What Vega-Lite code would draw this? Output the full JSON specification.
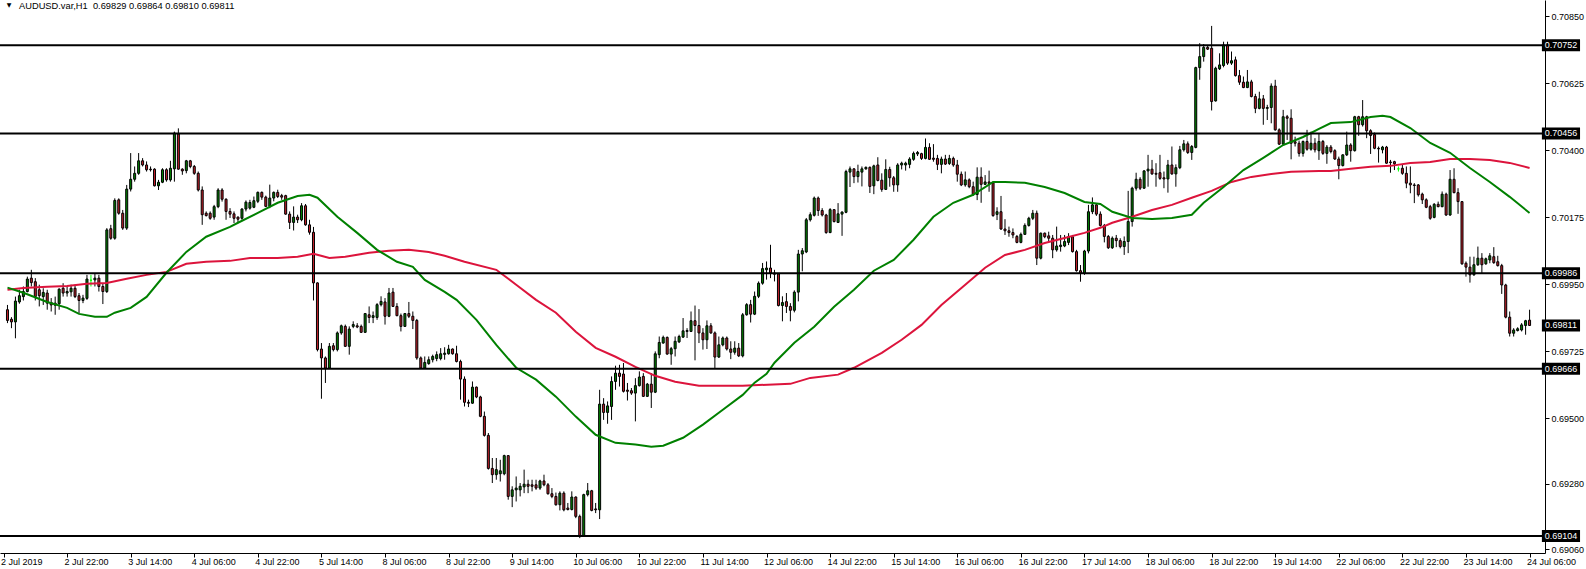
{
"$schema":"https://vega.github.io/schema/vega-lite/v6.json",
"width":1545,"height":553,
"autosize":{"type":"none"},
"padding":{"left":0,"top":0,"right":41,"bottom":16},
"background":"white",
"config":{"view":{"stroke":null},"font":"Liberation Sans"},
"datasets":{
"bars":[
{"i":0,"o":0.69864,"h":0.69880,"l":0.69819,"c":0.69828},
{"i":1,"o":0.69832,"h":0.69839,"l":0.69802,"c":0.69823},
{"i":2,"o":0.69823,"h":0.69908,"l":0.69768,"c":0.69893},
{"i":3,"o":0.69890,"h":0.69931,"l":0.69884,"c":0.69911},
{"i":4,"o":0.69908,"h":0.69942,"l":0.69895,"c":0.69925},
{"i":5,"o":0.69925,"h":0.69975,"l":0.69922,"c":0.69967},
{"i":6,"o":0.69970,"h":0.69998,"l":0.69942,"c":0.69955},
{"i":7,"o":0.69958,"h":0.69970,"l":0.69895,"c":0.69908},
{"i":8,"o":0.69931,"h":0.69948,"l":0.69875,"c":0.69911},
{"i":9,"o":0.69908,"h":0.69936,"l":0.69880,"c":0.69922},
{"i":10,"o":0.69920,"h":0.69931,"l":0.69864,"c":0.69886},
{"i":11,"o":0.69888,"h":0.69903,"l":0.69858,"c":0.69880},
{"i":12,"o":0.69886,"h":0.69908,"l":0.69847,"c":0.69879},
{"i":13,"o":0.69884,"h":0.69936,"l":0.69864,"c":0.69933},
{"i":14,"o":0.69936,"h":0.69953,"l":0.69908,"c":0.69920},
{"i":15,"o":0.69920,"h":0.69944,"l":0.69908,"c":0.69925},
{"i":16,"o":0.69924,"h":0.69948,"l":0.69908,"c":0.69936},
{"i":17,"o":0.69936,"h":0.69948,"l":0.69903,"c":0.69908},
{"i":18,"o":0.69911,"h":0.69920,"l":0.69852,"c":0.69895},
{"i":19,"o":0.69895,"h":0.69914,"l":0.69886,"c":0.69903},
{"i":20,"o":0.69902,"h":0.69981,"l":0.69897,"c":0.69967},
{"i":21,"o":0.69963,"h":0.69981,"l":0.69942,"c":0.69963},
{"i":22,"o":0.69964,"h":0.69987,"l":0.69942,"c":0.69970},
{"i":23,"o":0.69970,"h":0.69981,"l":0.69925,"c":0.69942},
{"i":24,"o":0.69942,"h":0.69953,"l":0.69883,"c":0.69925},
{"i":25,"o":0.69925,"h":0.70138,"l":0.69920,"c":0.70132},
{"i":26,"o":0.70136,"h":0.70149,"l":0.70099,"c":0.70104},
{"i":27,"o":0.70104,"h":0.70238,"l":0.70099,"c":0.70231},
{"i":28,"o":0.70233,"h":0.70238,"l":0.70183,"c":0.70188},
{"i":29,"o":0.70188,"h":0.70199,"l":0.70132,"c":0.70138},
{"i":30,"o":0.70138,"h":0.70283,"l":0.70132,"c":0.70269},
{"i":31,"o":0.70269,"h":0.70390,"l":0.70261,"c":0.70302},
{"i":32,"o":0.70302,"h":0.70345,"l":0.70294,"c":0.70322},
{"i":33,"o":0.70322,"h":0.70390,"l":0.70317,"c":0.70364},
{"i":34,"o":0.70364,"h":0.70373,"l":0.70345,"c":0.70350},
{"i":35,"o":0.70350,"h":0.70362,"l":0.70328,"c":0.70334},
{"i":36,"o":0.70336,"h":0.70345,"l":0.70328,"c":0.70334},
{"i":37,"o":0.70336,"h":0.70339,"l":0.70278,"c":0.70280},
{"i":38,"o":0.70280,"h":0.70300,"l":0.70266,"c":0.70292},
{"i":39,"o":0.70292,"h":0.70339,"l":0.70289,"c":0.70334},
{"i":40,"o":0.70334,"h":0.70339,"l":0.70294,"c":0.70300},
{"i":41,"o":0.70300,"h":0.70364,"l":0.70294,"c":0.70339},
{"i":42,"o":0.70337,"h":0.70462,"l":0.70294,"c":0.70457},
{"i":43,"o":0.70454,"h":0.70473,"l":0.70334,"c":0.70336},
{"i":44,"o":0.70336,"h":0.70339,"l":0.70317,"c":0.70330},
{"i":45,"o":0.70331,"h":0.70367,"l":0.70322,"c":0.70364},
{"i":46,"o":0.70364,"h":0.70367,"l":0.70339,"c":0.70345},
{"i":47,"o":0.70345,"h":0.70350,"l":0.70317,"c":0.70322},
{"i":48,"o":0.70322,"h":0.70328,"l":0.70261,"c":0.70266},
{"i":49,"o":0.70266,"h":0.70278,"l":0.70149,"c":0.70183},
{"i":50,"o":0.70188,"h":0.70194,"l":0.70177,"c":0.70180},
{"i":51,"o":0.70188,"h":0.70194,"l":0.70166,"c":0.70171},
{"i":52,"o":0.70175,"h":0.70216,"l":0.70166,"c":0.70210},
{"i":53,"o":0.70210,"h":0.70272,"l":0.70205,"c":0.70266},
{"i":54,"o":0.70266,"h":0.70272,"l":0.70227,"c":0.70235},
{"i":55,"o":0.70235,"h":0.70238,"l":0.70166,"c":0.70194},
{"i":56,"o":0.70194,"h":0.70205,"l":0.70172,"c":0.70185},
{"i":57,"o":0.70186,"h":0.70194,"l":0.70155,"c":0.70171},
{"i":58,"o":0.70175,"h":0.70177,"l":0.70155,"c":0.70168},
{"i":59,"o":0.70171,"h":0.70205,"l":0.70166,"c":0.70202},
{"i":60,"o":0.70202,"h":0.70231,"l":0.70194,"c":0.70225},
{"i":61,"o":0.70205,"h":0.70233,"l":0.70200,"c":0.70224},
{"i":62,"o":0.70208,"h":0.70244,"l":0.70205,"c":0.70230},
{"i":63,"o":0.70228,"h":0.70261,"l":0.70222,"c":0.70258},
{"i":64,"o":0.70258,"h":0.70261,"l":0.70233,"c":0.70242},
{"i":65,"o":0.70242,"h":0.70247,"l":0.70209,"c":0.70211},
{"i":66,"o":0.70211,"h":0.70284,"l":0.70205,"c":0.70239},
{"i":67,"o":0.70239,"h":0.70261,"l":0.70228,"c":0.70258},
{"i":68,"o":0.70258,"h":0.70267,"l":0.70239,"c":0.70244},
{"i":69,"o":0.70247,"h":0.70253,"l":0.70233,"c":0.70242},
{"i":70,"o":0.70247,"h":0.70250,"l":0.70183,"c":0.70185},
{"i":71,"o":0.70185,"h":0.70194,"l":0.70135,"c":0.70157},
{"i":72,"o":0.70157,"h":0.70211,"l":0.70130,"c":0.70175},
{"i":73,"o":0.70175,"h":0.70183,"l":0.70155,"c":0.70166},
{"i":74,"o":0.70166,"h":0.70222,"l":0.70161,"c":0.70213},
{"i":75,"o":0.70213,"h":0.70219,"l":0.70146,"c":0.70149},
{"i":76,"o":0.70149,"h":0.70166,"l":0.70116,"c":0.70124},
{"i":77,"o":0.70124,"h":0.70142,"l":0.69895,"c":0.69954},
{"i":78,"o":0.69954,"h":0.69956,"l":0.69724,"c":0.69730},
{"i":79,"o":0.69732,"h":0.69752,"l":0.69565,"c":0.69702},
{"i":80,"o":0.69702,"h":0.69707,"l":0.69618,"c":0.69668},
{"i":81,"o":0.69668,"h":0.69752,"l":0.69666,"c":0.69741},
{"i":82,"o":0.69743,"h":0.69752,"l":0.69724,"c":0.69730},
{"i":83,"o":0.69730,"h":0.69791,"l":0.69724,"c":0.69786},
{"i":84,"o":0.69786,"h":0.69814,"l":0.69780,"c":0.69810},
{"i":85,"o":0.69808,"h":0.69814,"l":0.69739,"c":0.69741},
{"i":86,"o":0.69741,"h":0.69808,"l":0.69713,"c":0.69799},
{"i":87,"o":0.69808,"h":0.69825,"l":0.69802,"c":0.69814},
{"i":88,"o":0.69810,"h":0.69819,"l":0.69802,"c":0.69806},
{"i":89,"o":0.69808,"h":0.69814,"l":0.69786,"c":0.69788},
{"i":90,"o":0.69788,"h":0.69853,"l":0.69786,"c":0.69851},
{"i":91,"o":0.69847,"h":0.69875,"l":0.69819,"c":0.69838},
{"i":92,"o":0.69838,"h":0.69858,"l":0.69819,"c":0.69844},
{"i":93,"o":0.69838,"h":0.69886,"l":0.69830,"c":0.69881},
{"i":94,"o":0.69881,"h":0.69909,"l":0.69875,"c":0.69892},
{"i":95,"o":0.69890,"h":0.69903,"l":0.69814,"c":0.69842},
{"i":96,"o":0.69842,"h":0.69937,"l":0.69839,"c":0.69920},
{"i":97,"o":0.69923,"h":0.69937,"l":0.69873,"c":0.69875},
{"i":98,"o":0.69875,"h":0.69886,"l":0.69842,"c":0.69844},
{"i":99,"o":0.69844,"h":0.69851,"l":0.69791,"c":0.69808},
{"i":100,"o":0.69808,"h":0.69853,"l":0.69806,"c":0.69851},
{"i":101,"o":0.69851,"h":0.69890,"l":0.69836,"c":0.69842},
{"i":102,"o":0.69842,"h":0.69858,"l":0.69799,"c":0.69828},
{"i":103,"o":0.69828,"h":0.69833,"l":0.69696,"c":0.69702},
{"i":104,"o":0.69702,"h":0.69707,"l":0.69666,"c":0.69668},
{"i":105,"o":0.69668,"h":0.69707,"l":0.69666,"c":0.69687},
{"i":106,"o":0.69683,"h":0.69707,"l":0.69679,"c":0.69696},
{"i":107,"o":0.69696,"h":0.69713,"l":0.69687,"c":0.69707},
{"i":108,"o":0.69700,"h":0.69724,"l":0.69691,"c":0.69713},
{"i":109,"o":0.69700,"h":0.69735,"l":0.69694,"c":0.69716},
{"i":110,"o":0.69714,"h":0.69738,"l":0.69696,"c":0.69718},
{"i":111,"o":0.69716,"h":0.69746,"l":0.69713,"c":0.69732},
{"i":112,"o":0.69732,"h":0.69734,"l":0.69713,"c":0.69716},
{"i":113,"o":0.69716,"h":0.69743,"l":0.69687,"c":0.69690},
{"i":114,"o":0.69690,"h":0.69696,"l":0.69562,"c":0.69631},
{"i":115,"o":0.69631,"h":0.69640,"l":0.69539,"c":0.69553},
{"i":116,"o":0.69553,"h":0.69562,"l":0.69537,"c":0.69550},
{"i":117,"o":0.69550,"h":0.69623,"l":0.69548,"c":0.69604},
{"i":118,"o":0.69604,"h":0.69606,"l":0.69567,"c":0.69571},
{"i":119,"o":0.69571,"h":0.69575,"l":0.69503,"c":0.69506},
{"i":120,"o":0.69506,"h":0.69522,"l":0.69438,"c":0.69442},
{"i":121,"o":0.69442,"h":0.69450,"l":0.69327,"c":0.69331},
{"i":122,"o":0.69331,"h":0.69366,"l":0.69282,"c":0.69310},
{"i":123,"o":0.69310,"h":0.69366,"l":0.69293,"c":0.69327},
{"i":124,"o":0.69313,"h":0.69360,"l":0.69287,"c":0.69323},
{"i":125,"o":0.69313,"h":0.69377,"l":0.69308,"c":0.69374},
{"i":126,"o":0.69374,"h":0.69376,"l":0.69226,"c":0.69237},
{"i":127,"o":0.69237,"h":0.69271,"l":0.69201,"c":0.69259},
{"i":128,"o":0.69259,"h":0.69304,"l":0.69220,"c":0.69265},
{"i":129,"o":0.69259,"h":0.69282,"l":0.69237,"c":0.69271},
{"i":130,"o":0.69269,"h":0.69327,"l":0.69248,"c":0.69278},
{"i":131,"o":0.69278,"h":0.69293,"l":0.69248,"c":0.69271},
{"i":132,"o":0.69276,"h":0.69293,"l":0.69254,"c":0.69271},
{"i":133,"o":0.69276,"h":0.69293,"l":0.69259,"c":0.69265},
{"i":134,"o":0.69265,"h":0.69293,"l":0.69259,"c":0.69289},
{"i":135,"o":0.69289,"h":0.69310,"l":0.69271,"c":0.69276},
{"i":136,"o":0.69276,"h":0.69282,"l":0.69243,"c":0.69246},
{"i":137,"o":0.69246,"h":0.69265,"l":0.69231,"c":0.69237},
{"i":138,"o":0.69237,"h":0.69250,"l":0.69206,"c":0.69209},
{"i":139,"o":0.69209,"h":0.69254,"l":0.69190,"c":0.69248},
{"i":140,"o":0.69248,"h":0.69254,"l":0.69187,"c":0.69192},
{"i":141,"o":0.69198,"h":0.69215,"l":0.69190,"c":0.69193},
{"i":142,"o":0.69193,"h":0.69254,"l":0.69190,"c":0.69235},
{"i":143,"o":0.69235,"h":0.69237,"l":0.69164,"c":0.69170},
{"i":144,"o":0.69170,"h":0.69176,"l":0.69097,"c":0.69103},
{"i":145,"o":0.69103,"h":0.69246,"l":0.69101,"c":0.69243},
{"i":146,"o":0.69243,"h":0.69282,"l":0.69237,"c":0.69256},
{"i":147,"o":0.69256,"h":0.69259,"l":0.69187,"c":0.69190},
{"i":148,"o":0.69195,"h":0.69215,"l":0.69181,"c":0.69192},
{"i":149,"o":0.69192,"h":0.69595,"l":0.69161,"c":0.69547},
{"i":150,"o":0.69547,"h":0.69567,"l":0.69494,"c":0.69519},
{"i":151,"o":0.69519,"h":0.69556,"l":0.69481,"c":0.69541},
{"i":152,"o":0.69539,"h":0.69640,"l":0.69494,"c":0.69623},
{"i":153,"o":0.69623,"h":0.69676,"l":0.69595,"c":0.69651},
{"i":154,"o":0.69651,"h":0.69679,"l":0.69606,"c":0.69640},
{"i":155,"o":0.69648,"h":0.69685,"l":0.69586,"c":0.69590},
{"i":156,"o":0.69594,"h":0.69618,"l":0.69559,"c":0.69590},
{"i":157,"o":0.69592,"h":0.69601,"l":0.69578,"c":0.69584},
{"i":158,"o":0.69584,"h":0.69634,"l":0.69489,"c":0.69609},
{"i":159,"o":0.69609,"h":0.69657,"l":0.69606,"c":0.69638},
{"i":160,"o":0.69640,"h":0.69651,"l":0.69571,"c":0.69573},
{"i":161,"o":0.69573,"h":0.69618,"l":0.69571,"c":0.69614},
{"i":162,"o":0.69614,"h":0.69651,"l":0.69534,"c":0.69587},
{"i":163,"o":0.69587,"h":0.69724,"l":0.69584,"c":0.69716},
{"i":164,"o":0.69713,"h":0.69774,"l":0.69701,"c":0.69754},
{"i":165,"o":0.69752,"h":0.69777,"l":0.69750,"c":0.69771},
{"i":166,"o":0.69771,"h":0.69774,"l":0.69713,"c":0.69715},
{"i":167,"o":0.69715,"h":0.69739,"l":0.69679,"c":0.69733},
{"i":168,"o":0.69733,"h":0.69774,"l":0.69707,"c":0.69758},
{"i":169,"o":0.69756,"h":0.69780,"l":0.69752,"c":0.69774},
{"i":170,"o":0.69772,"h":0.69836,"l":0.69769,"c":0.69793},
{"i":171,"o":0.69791,"h":0.69802,"l":0.69769,"c":0.69794},
{"i":172,"o":0.69791,"h":0.69858,"l":0.69789,"c":0.69827},
{"i":173,"o":0.69827,"h":0.69878,"l":0.69694,"c":0.69811},
{"i":174,"o":0.69811,"h":0.69866,"l":0.69752,"c":0.69786},
{"i":175,"o":0.69786,"h":0.69802,"l":0.69730,"c":0.69763},
{"i":176,"o":0.69763,"h":0.69828,"l":0.69732,"c":0.69810},
{"i":177,"o":0.69810,"h":0.69819,"l":0.69783,"c":0.69786},
{"i":178,"o":0.69786,"h":0.69791,"l":0.69668,"c":0.69705},
{"i":179,"o":0.69705,"h":0.69774,"l":0.69702,"c":0.69746},
{"i":180,"o":0.69746,"h":0.69774,"l":0.69741,"c":0.69769},
{"i":181,"o":0.69769,"h":0.69774,"l":0.69727,"c":0.69732},
{"i":182,"o":0.69732,"h":0.69758,"l":0.69698,"c":0.69721},
{"i":183,"o":0.69721,"h":0.69758,"l":0.69713,"c":0.69735},
{"i":184,"o":0.69735,"h":0.69752,"l":0.69705,"c":0.69709},
{"i":185,"o":0.69709,"h":0.69853,"l":0.69704,"c":0.69847},
{"i":186,"o":0.69847,"h":0.69886,"l":0.69844,"c":0.69881},
{"i":187,"o":0.69881,"h":0.69897,"l":0.69821,"c":0.69849},
{"i":188,"o":0.69849,"h":0.69925,"l":0.69846,"c":0.69909},
{"i":189,"o":0.69909,"h":0.69959,"l":0.69903,"c":0.69953},
{"i":190,"o":0.69953,"h":0.70021,"l":0.69948,"c":0.70002},
{"i":191,"o":0.69998,"h":0.70026,"l":0.69965,"c":0.70004},
{"i":192,"o":0.70004,"h":0.70082,"l":0.69970,"c":0.69987},
{"i":193,"o":0.69987,"h":0.69998,"l":0.69959,"c":0.69983},
{"i":194,"o":0.69984,"h":0.69987,"l":0.69875,"c":0.69878},
{"i":195,"o":0.69878,"h":0.69909,"l":0.69825,"c":0.69888},
{"i":196,"o":0.69891,"h":0.69920,"l":0.69853,"c":0.69875},
{"i":197,"o":0.69875,"h":0.69886,"l":0.69825,"c":0.69862},
{"i":198,"o":0.69862,"h":0.69929,"l":0.69855,"c":0.69923},
{"i":199,"o":0.69923,"h":0.70065,"l":0.69892,"c":0.70051},
{"i":200,"o":0.70051,"h":0.70071,"l":0.69993,"c":0.70062},
{"i":201,"o":0.70058,"h":0.70172,"l":0.70054,"c":0.70166},
{"i":202,"o":0.70166,"h":0.70191,"l":0.70160,"c":0.70183},
{"i":203,"o":0.70181,"h":0.70244,"l":0.70177,"c":0.70239},
{"i":204,"o":0.70239,"h":0.70244,"l":0.70179,"c":0.70197},
{"i":205,"o":0.70197,"h":0.70205,"l":0.70177,"c":0.70182},
{"i":206,"o":0.70182,"h":0.70186,"l":0.70119,"c":0.70123},
{"i":207,"o":0.70123,"h":0.70205,"l":0.70121,"c":0.70200},
{"i":208,"o":0.70200,"h":0.70202,"l":0.70157,"c":0.70160},
{"i":209,"o":0.70157,"h":0.70222,"l":0.70155,"c":0.70186},
{"i":210,"o":0.70185,"h":0.70194,"l":0.70112,"c":0.70192},
{"i":211,"o":0.70191,"h":0.70334,"l":0.70188,"c":0.70328},
{"i":212,"o":0.70326,"h":0.70345,"l":0.70276,"c":0.70337},
{"i":213,"o":0.70337,"h":0.70339,"l":0.70289,"c":0.70311},
{"i":214,"o":0.70311,"h":0.70351,"l":0.70291,"c":0.70328},
{"i":215,"o":0.70326,"h":0.70345,"l":0.70278,"c":0.70337},
{"i":216,"o":0.70337,"h":0.70345,"l":0.70334,"c":0.70342},
{"i":217,"o":0.70342,"h":0.70345,"l":0.70256,"c":0.70278},
{"i":218,"o":0.70280,"h":0.70351,"l":0.70252,"c":0.70347},
{"i":219,"o":0.70350,"h":0.70376,"l":0.70295,"c":0.70298},
{"i":220,"o":0.70299,"h":0.70322,"l":0.70260,"c":0.70268},
{"i":221,"o":0.70268,"h":0.70369,"l":0.70266,"c":0.70335},
{"i":222,"o":0.70335,"h":0.70344,"l":0.70277,"c":0.70307},
{"i":223,"o":0.70307,"h":0.70313,"l":0.70260,"c":0.70283},
{"i":224,"o":0.70283,"h":0.70356,"l":0.70260,"c":0.70350},
{"i":225,"o":0.70350,"h":0.70361,"l":0.70335,"c":0.70356},
{"i":226,"o":0.70350,"h":0.70361,"l":0.70331,"c":0.70356},
{"i":227,"o":0.70352,"h":0.70376,"l":0.70339,"c":0.70370},
{"i":228,"o":0.70369,"h":0.70395,"l":0.70364,"c":0.70389},
{"i":229,"o":0.70387,"h":0.70397,"l":0.70380,"c":0.70392},
{"i":230,"o":0.70388,"h":0.70391,"l":0.70367,"c":0.70372},
{"i":231,"o":0.70372,"h":0.70439,"l":0.70369,"c":0.70409},
{"i":232,"o":0.70409,"h":0.70423,"l":0.70367,"c":0.70369},
{"i":233,"o":0.70373,"h":0.70420,"l":0.70361,"c":0.70369},
{"i":234,"o":0.70372,"h":0.70384,"l":0.70333,"c":0.70352},
{"i":235,"o":0.70352,"h":0.70378,"l":0.70322,"c":0.70370},
{"i":236,"o":0.70370,"h":0.70384,"l":0.70350,"c":0.70353},
{"i":237,"o":0.70355,"h":0.70384,"l":0.70350,"c":0.70372},
{"i":238,"o":0.70372,"h":0.70378,"l":0.70344,"c":0.70350},
{"i":239,"o":0.70350,"h":0.70367,"l":0.70294,"c":0.70319},
{"i":240,"o":0.70319,"h":0.70328,"l":0.70279,"c":0.70283},
{"i":241,"o":0.70283,"h":0.70328,"l":0.70277,"c":0.70300},
{"i":242,"o":0.70300,"h":0.70305,"l":0.70272,"c":0.70277},
{"i":243,"o":0.70277,"h":0.70294,"l":0.70246,"c":0.70251},
{"i":244,"o":0.70251,"h":0.70342,"l":0.70232,"c":0.70309},
{"i":245,"o":0.70309,"h":0.70342,"l":0.70223,"c":0.70285},
{"i":246,"o":0.70285,"h":0.70316,"l":0.70283,"c":0.70293},
{"i":247,"o":0.70293,"h":0.70331,"l":0.70260,"c":0.70288},
{"i":248,"o":0.70290,"h":0.70294,"l":0.70176,"c":0.70180},
{"i":249,"o":0.70184,"h":0.70208,"l":0.70165,"c":0.70193},
{"i":250,"o":0.70193,"h":0.70246,"l":0.70132,"c":0.70135},
{"i":251,"o":0.70135,"h":0.70168,"l":0.70115,"c":0.70129},
{"i":252,"o":0.70129,"h":0.70143,"l":0.70109,"c":0.70123},
{"i":253,"o":0.70123,"h":0.70137,"l":0.70104,"c":0.70115},
{"i":254,"o":0.70110,"h":0.70115,"l":0.70087,"c":0.70090},
{"i":255,"o":0.70090,"h":0.70123,"l":0.70087,"c":0.70117},
{"i":256,"o":0.70117,"h":0.70154,"l":0.70115,"c":0.70147},
{"i":257,"o":0.70147,"h":0.70176,"l":0.70143,"c":0.70171},
{"i":258,"o":0.70171,"h":0.70199,"l":0.70165,"c":0.70188},
{"i":259,"o":0.70188,"h":0.70197,"l":0.70014,"c":0.70037},
{"i":260,"o":0.70037,"h":0.70123,"l":0.70033,"c":0.70121},
{"i":261,"o":0.70121,"h":0.70123,"l":0.70104,"c":0.70109},
{"i":262,"o":0.70112,"h":0.70126,"l":0.70093,"c":0.70104},
{"i":263,"o":0.70104,"h":0.70115,"l":0.70037,"c":0.70065},
{"i":264,"o":0.70065,"h":0.70143,"l":0.70059,"c":0.70078},
{"i":265,"o":0.70076,"h":0.70115,"l":0.70059,"c":0.70081},
{"i":266,"o":0.70078,"h":0.70115,"l":0.70074,"c":0.70093},
{"i":267,"o":0.70090,"h":0.70121,"l":0.70081,"c":0.70109},
{"i":268,"o":0.70109,"h":0.70115,"l":0.70056,"c":0.70059},
{"i":269,"o":0.70059,"h":0.70065,"l":0.69992,"c":0.69995},
{"i":270,"o":0.69995,"h":0.70014,"l":0.69958,"c":0.69986},
{"i":271,"o":0.69986,"h":0.70065,"l":0.69981,"c":0.70061},
{"i":272,"o":0.70061,"h":0.70216,"l":0.70053,"c":0.70193},
{"i":273,"o":0.70193,"h":0.70241,"l":0.70185,"c":0.70216},
{"i":274,"o":0.70216,"h":0.70221,"l":0.70179,"c":0.70185},
{"i":275,"o":0.70185,"h":0.70194,"l":0.70143,"c":0.70147},
{"i":276,"o":0.70147,"h":0.70152,"l":0.70090,"c":0.70110},
{"i":277,"o":0.70110,"h":0.70115,"l":0.70068,"c":0.70072},
{"i":278,"o":0.70072,"h":0.70110,"l":0.70068,"c":0.70104},
{"i":279,"o":0.70104,"h":0.70115,"l":0.70074,"c":0.70096},
{"i":280,"o":0.70096,"h":0.70104,"l":0.70070,"c":0.70076},
{"i":281,"o":0.70076,"h":0.70110,"l":0.70048,"c":0.70093},
{"i":282,"o":0.70093,"h":0.70263,"l":0.70054,"c":0.70160},
{"i":283,"o":0.70160,"h":0.70277,"l":0.70143,"c":0.70272},
{"i":284,"o":0.70272,"h":0.70324,"l":0.70264,"c":0.70302},
{"i":285,"o":0.70302,"h":0.70309,"l":0.70266,"c":0.70272},
{"i":286,"o":0.70272,"h":0.70333,"l":0.70270,"c":0.70330},
{"i":287,"o":0.70330,"h":0.70384,"l":0.70277,"c":0.70336},
{"i":288,"o":0.70336,"h":0.70367,"l":0.70317,"c":0.70320},
{"i":289,"o":0.70322,"h":0.70356,"l":0.70277,"c":0.70319},
{"i":290,"o":0.70324,"h":0.70384,"l":0.70300,"c":0.70305},
{"i":291,"o":0.70307,"h":0.70328,"l":0.70272,"c":0.70303},
{"i":292,"o":0.70303,"h":0.70367,"l":0.70257,"c":0.70350},
{"i":293,"o":0.70350,"h":0.70412,"l":0.70317,"c":0.70320},
{"i":294,"o":0.70320,"h":0.70352,"l":0.70277,"c":0.70341},
{"i":295,"o":0.70341,"h":0.70414,"l":0.70336,"c":0.70401},
{"i":296,"o":0.70401,"h":0.70434,"l":0.70395,"c":0.70421},
{"i":297,"o":0.70421,"h":0.70429,"l":0.70387,"c":0.70392},
{"i":298,"o":0.70392,"h":0.70417,"l":0.70367,"c":0.70412},
{"i":299,"o":0.70409,"h":0.70680,"l":0.70406,"c":0.70677},
{"i":300,"o":0.70677,"h":0.70759,"l":0.70636,"c":0.70714},
{"i":301,"o":0.70714,"h":0.70756,"l":0.70697,"c":0.70745},
{"i":302,"o":0.70745,"h":0.70753,"l":0.70736,"c":0.70739},
{"i":303,"o":0.70742,"h":0.70817,"l":0.70533,"c":0.70563},
{"i":304,"o":0.70565,"h":0.70680,"l":0.70563,"c":0.70675},
{"i":305,"o":0.70673,"h":0.70725,"l":0.70669,"c":0.70686},
{"i":306,"o":0.70684,"h":0.70764,"l":0.70678,"c":0.70753},
{"i":307,"o":0.70753,"h":0.70764,"l":0.70686,"c":0.70692},
{"i":308,"o":0.70692,"h":0.70731,"l":0.70686,"c":0.70700},
{"i":309,"o":0.70703,"h":0.70714,"l":0.70647,"c":0.70650},
{"i":310,"o":0.70650,"h":0.70669,"l":0.70619,"c":0.70628},
{"i":311,"o":0.70628,"h":0.70647,"l":0.70608,"c":0.70610},
{"i":312,"o":0.70610,"h":0.70669,"l":0.70608,"c":0.70629},
{"i":313,"o":0.70629,"h":0.70636,"l":0.70577,"c":0.70580},
{"i":314,"o":0.70580,"h":0.70589,"l":0.70524,"c":0.70540},
{"i":315,"o":0.70540,"h":0.70596,"l":0.70537,"c":0.70572},
{"i":316,"o":0.70572,"h":0.70585,"l":0.70485,"c":0.70540},
{"i":317,"o":0.70540,"h":0.70552,"l":0.70501,"c":0.70543},
{"i":318,"o":0.70543,"h":0.70624,"l":0.70490,"c":0.70615},
{"i":319,"o":0.70615,"h":0.70636,"l":0.70465,"c":0.70468},
{"i":320,"o":0.70468,"h":0.70473,"l":0.70417,"c":0.70420},
{"i":321,"o":0.70420,"h":0.70535,"l":0.70417,"c":0.70512},
{"i":322,"o":0.70512,"h":0.70518,"l":0.70434,"c":0.70507},
{"i":323,"o":0.70507,"h":0.70537,"l":0.70369,"c":0.70423},
{"i":324,"o":0.70428,"h":0.70445,"l":0.70412,"c":0.70423},
{"i":325,"o":0.70423,"h":0.70432,"l":0.70378,"c":0.70389},
{"i":326,"o":0.70389,"h":0.70432,"l":0.70378,"c":0.70429},
{"i":327,"o":0.70429,"h":0.70468,"l":0.70398,"c":0.70403},
{"i":328,"o":0.70403,"h":0.70462,"l":0.70398,"c":0.70423},
{"i":329,"o":0.70423,"h":0.70440,"l":0.70392,"c":0.70401},
{"i":330,"o":0.70398,"h":0.70457,"l":0.70367,"c":0.70429},
{"i":331,"o":0.70429,"h":0.70434,"l":0.70384,"c":0.70389},
{"i":332,"o":0.70389,"h":0.70417,"l":0.70354,"c":0.70410},
{"i":333,"o":0.70410,"h":0.70417,"l":0.70389,"c":0.70395},
{"i":334,"o":0.70398,"h":0.70403,"l":0.70367,"c":0.70370},
{"i":335,"o":0.70370,"h":0.70378,"l":0.70302,"c":0.70348},
{"i":336,"o":0.70348,"h":0.70386,"l":0.70345,"c":0.70384},
{"i":337,"o":0.70384,"h":0.70462,"l":0.70380,"c":0.70417},
{"i":338,"o":0.70417,"h":0.70423,"l":0.70361,"c":0.70398},
{"i":339,"o":0.70398,"h":0.70515,"l":0.70395,"c":0.70512},
{"i":340,"o":0.70512,"h":0.70515,"l":0.70448,"c":0.70485},
{"i":341,"o":0.70485,"h":0.70568,"l":0.70479,"c":0.70512},
{"i":342,"o":0.70512,"h":0.70515,"l":0.70440,"c":0.70465},
{"i":343,"o":0.70465,"h":0.70470,"l":0.70387,"c":0.70449},
{"i":344,"o":0.70452,"h":0.70459,"l":0.70403,"c":0.70406},
{"i":345,"o":0.70406,"h":0.70412,"l":0.70358,"c":0.70404},
{"i":346,"o":0.70401,"h":0.70414,"l":0.70389,"c":0.70410},
{"i":347,"o":0.70410,"h":0.70414,"l":0.70354,"c":0.70356},
{"i":348,"o":0.70360,"h":0.70367,"l":0.70324,"c":0.70358},
{"i":349,"o":0.70361,"h":0.70364,"l":0.70333,"c":0.70354},
{"i":350,"o":0.70337,"h":0.70345,"l":0.70328,"c":0.70337},
{"i":351,"o":0.70339,"h":0.70350,"l":0.70317,"c":0.70322},
{"i":352,"o":0.70322,"h":0.70345,"l":0.70272,"c":0.70289},
{"i":353,"o":0.70289,"h":0.70345,"l":0.70255,"c":0.70283},
{"i":354,"o":0.70283,"h":0.70289,"l":0.70222,"c":0.70281},
{"i":355,"o":0.70283,"h":0.70286,"l":0.70244,"c":0.70250},
{"i":356,"o":0.70252,"h":0.70257,"l":0.70219,"c":0.70233},
{"i":357,"o":0.70233,"h":0.70238,"l":0.70205,"c":0.70208},
{"i":358,"o":0.70210,"h":0.70216,"l":0.70166,"c":0.70171},
{"i":359,"o":0.70174,"h":0.70222,"l":0.70171,"c":0.70218},
{"i":360,"o":0.70218,"h":0.70227,"l":0.70208,"c":0.70210},
{"i":361,"o":0.70210,"h":0.70261,"l":0.70208,"c":0.70252},
{"i":362,"o":0.70252,"h":0.70257,"l":0.70179,"c":0.70182},
{"i":363,"o":0.70182,"h":0.70333,"l":0.70179,"c":0.70302},
{"i":364,"o":0.70302,"h":0.70339,"l":0.70255,"c":0.70257},
{"i":365,"o":0.70257,"h":0.70272,"l":0.70186,"c":0.70227},
{"i":366,"o":0.70227,"h":0.70229,"l":0.70015,"c":0.70018},
{"i":367,"o":0.70020,"h":0.70026,"l":0.69975,"c":0.70007},
{"i":368,"o":0.70007,"h":0.70042,"l":0.69955,"c":0.69981},
{"i":369,"o":0.69981,"h":0.70042,"l":0.69978,"c":0.70015},
{"i":370,"o":0.70015,"h":0.70076,"l":0.70011,"c":0.70037},
{"i":371,"o":0.70037,"h":0.70054,"l":0.69987,"c":0.70015},
{"i":372,"o":0.70018,"h":0.70039,"l":0.70015,"c":0.70035},
{"i":373,"o":0.70031,"h":0.70054,"l":0.70020,"c":0.70045},
{"i":374,"o":0.70042,"h":0.70074,"l":0.70018,"c":0.70022},
{"i":375,"o":0.70025,"h":0.70045,"l":0.70009,"c":0.70012},
{"i":376,"o":0.70012,"h":0.70018,"l":0.69917,"c":0.69947},
{"i":377,"o":0.69947,"h":0.69951,"l":0.69835,"c":0.69839},
{"i":378,"o":0.69839,"h":0.69858,"l":0.69774,"c":0.69785},
{"i":379,"o":0.69785,"h":0.69802,"l":0.69774,"c":0.69796},
{"i":380,"o":0.69794,"h":0.69805,"l":0.69791,"c":0.69800},
{"i":381,"o":0.69796,"h":0.69819,"l":0.69791,"c":0.69813},
{"i":382,"o":0.69811,"h":0.69830,"l":0.69780,"c":0.69827},
{"i":383,"o":0.69829,"h":0.69864,"l":0.69810,"c":0.69811}
],
"green":[
{"i":0,"v":0.69938},{"i":4,"v":0.69921},{"i":10,"v":0.69890},{"i":15,"v":0.69870},{"i":18,"v":0.69850},{"i":22,"v":0.69840},{"i":25,"v":0.69840},{"i":27,"v":0.69854},{"i":31,"v":0.69870},{"i":35,"v":0.69907},{"i":40,"v":0.69988},{"i":45,"v":0.70058},{"i":50,"v":0.70109},{"i":56,"v":0.70142},{"i":58,"v":0.70156},{"i":63,"v":0.70189},{"i":68,"v":0.70223},{"i":73,"v":0.70246},{"i":76,"v":0.70250},{"i":78,"v":0.70240},{"i":83,"v":0.70176},{"i":88,"v":0.70122},{"i":93,"v":0.70065},{"i":98,"v":0.70025},{"i":102,"v":0.70008},{"i":105,"v":0.69964},{"i":110,"v":0.69924},{"i":113,"v":0.69897},{"i":118,"v":0.69830},{"i":123,"v":0.69746},{"i":128,"v":0.69669},{"i":133,"v":0.69629},{"i":138,"v":0.69572},{"i":143,"v":0.69505},{"i":148,"v":0.69444},{"i":153,"v":0.69417},{"i":158,"v":0.69411},{"i":162,"v":0.69404},{"i":165,"v":0.69407},{"i":170,"v":0.69434},{"i":175,"v":0.69478},{"i":180,"v":0.69528},{"i":185,"v":0.69578},{"i":188,"v":0.69619},{"i":191,"v":0.69649},{"i":193,"v":0.69686},{"i":198,"v":0.69753},{"i":203,"v":0.69807},{"i":208,"v":0.69874},{"i":213,"v":0.69931},{"i":218,"v":0.69995},{"i":223,"v":0.70031},{"i":228,"v":0.70099},{"i":233,"v":0.70176},{"i":238,"v":0.70223},{"i":243,"v":0.70250},{"i":248,"v":0.70293},{"i":251,"v":0.70293},{"i":256,"v":0.70290},{"i":261,"v":0.70276},{"i":266,"v":0.70256},{"i":271,"v":0.70226},{"i":275,"v":0.70219},{"i":278,"v":0.70193},{"i":283,"v":0.70172},{"i":288,"v":0.70169},{"i":293,"v":0.70172},{"i":298,"v":0.70183},{"i":301,"v":0.70223},{"i":306,"v":0.70276},{"i":311,"v":0.70333},{"i":316,"v":0.70374},{"i":321,"v":0.70417},{"i":326,"v":0.70444},{"i":330,"v":0.70471},{"i":333,"v":0.70491},{"i":338,"v":0.70494},{"i":343,"v":0.70511},{"i":346,"v":0.70515},{"i":348,"v":0.70511},{"i":353,"v":0.70474},{"i":358,"v":0.70424},{"i":363,"v":0.70391},{"i":368,"v":0.70340},{"i":373,"v":0.70293},{"i":378,"v":0.70243},{"i":383,"v":0.70189}
],
"red":[
{"i":0,"v":0.69931},{"i":4,"v":0.69937},{"i":10,"v":0.69941},{"i":15,"v":0.69944},{"i":20,"v":0.69951},{"i":25,"v":0.69954},{"i":30,"v":0.69968},{"i":35,"v":0.69981},{"i":40,"v":0.69991},{"i":45,"v":0.70018},{"i":50,"v":0.70025},{"i":56,"v":0.70028},{"i":61,"v":0.70038},{"i":68,"v":0.70038},{"i":73,"v":0.70042},{"i":77,"v":0.70052},{"i":81,"v":0.70038},{"i":85,"v":0.70042},{"i":91,"v":0.70055},{"i":96,"v":0.70062},{"i":101,"v":0.70065},{"i":106,"v":0.70058},{"i":110,"v":0.70045},{"i":115,"v":0.70025},{"i":123,"v":0.69998},{"i":128,"v":0.69948},{"i":133,"v":0.69897},{"i":138,"v":0.69854},{"i":143,"v":0.69790},{"i":148,"v":0.69736},{"i":153,"v":0.69706},{"i":158,"v":0.69672},{"i":163,"v":0.69642},{"i":168,"v":0.69622},{"i":174,"v":0.69609},{"i":185,"v":0.69609},{"i":197,"v":0.69615},{"i":202,"v":0.69635},{"i":209,"v":0.69646},{"i":213,"v":0.69669},{"i":220,"v":0.69719},{"i":225,"v":0.69763},{"i":230,"v":0.69813},{"i":235,"v":0.69880},{"i":241,"v":0.69948},{"i":246,"v":0.70005},{"i":251,"v":0.70048},{"i":256,"v":0.70065},{"i":261,"v":0.70088},{"i":266,"v":0.70105},{"i":271,"v":0.70122},{"i":275,"v":0.70139},{"i":278,"v":0.70156},{"i":283,"v":0.70176},{"i":288,"v":0.70199},{"i":293,"v":0.70216},{"i":298,"v":0.70240},{"i":303,"v":0.70263},{"i":308,"v":0.70293},{"i":313,"v":0.70310},{"i":318,"v":0.70320},{"i":323,"v":0.70327},{"i":330,"v":0.70330},{"i":333,"v":0.70330},{"i":338,"v":0.70337},{"i":343,"v":0.70344},{"i":348,"v":0.70347},{"i":353,"v":0.70357},{"i":358,"v":0.70360},{"i":363,"v":0.70370},{"i":368,"v":0.70370},{"i":373,"v":0.70367},{"i":378,"v":0.70357},{"i":383,"v":0.70340}
],
"levels":[{"p":0.70752},{"p":0.70456},{"p":0.69986},{"p":0.69666},{"p":0.69104}],
"tags":[{"p":0.70752},{"p":0.70456},{"p":0.69986},{"p":0.69811},{"p":0.69666},{"p":0.69104}]
},
"layer":[
{"data":{"name":"bars"},
 "mark":{"type":"rule","strokeWidth":1},
 "encoding":{
  "x":{"field":"i","type":"quantitative","title":null,
   "scale":{"type":"linear","domain":[-0.625,385.625],"nice":false,"zero":false},
   "axis":{"orient":"bottom","values":[-1,15,31,47,63,79,95,111,127,143,159,175,191,207,223,239,255,271,287,303,319,335,351,367,383],
    "labelExpr":"['2 Jul 2019','2 Jul 22:00','3 Jul 14:00','4 Jul 06:00','4 Jul 22:00','5 Jul 14:00','8 Jul 06:00','8 Jul 22:00','9 Jul 14:00','10 Jul 06:00','10 Jul 22:00','11 Jul 14:00','12 Jul 06:00','14 Jul 22:00','15 Jul 14:00','16 Jul 06:00','16 Jul 22:00','17 Jul 14:00','18 Jul 06:00','18 Jul 22:00','19 Jul 14:00','22 Jul 06:00','22 Jul 22:00','23 Jul 14:00','24 Jul 06:00'][round((datum.value+1)/16)]",
    "grid":false,"domainColor":"#000000","domainWidth":1,"tickColor":"#000000","tickSize":4,"tickWidth":1,
    "labelColor":"#000000","labelFont":"Liberation Sans","labelFontSize":9,"labelAlign":"left","labelBaseline":"top",
    "labelOffset":-3,"labelPadding":0,"labelFlush":false,"labelOverlap":false,"title":null}},
  "y":{"field":"l","type":"quantitative","title":null,
   "scale":{"domain":[0.69047,0.70904],"nice":false,"zero":false},
   "axis":{"orient":"right","values":[0.6906,0.6917,0.6928,0.6939,0.695,0.69615,0.69725,0.6984,0.6995,0.70065,0.70175,0.7029,0.704,0.70515,0.70625,0.7074,0.7085],
    "format":".5f","grid":false,"domainColor":"#000000","domainWidth":1,"tickColor":"#000000","tickSize":4,"tickWidth":1,
    "labelColor":"#000000","labelFont":"Liberation Sans","labelFontSize":9,"labelPadding":2,"labelBaseline":"middle",
    "labelFlush":false,"labelOverlap":false,"title":null}},
  "y2":{"field":"h"},
  "color":{"condition":{"test":"datum.o==datum.c","value":"#00ff00"},"value":"#000000"}
 }},
{"data":{"name":"bars"},
 "mark":{"type":"bar","orient":"vertical","width":2,"strokeWidth":1},
 "encoding":{
  "x":{"field":"i","type":"quantitative","title":null,"scale":{"type":"linear","domain":[-0.625,385.625],"nice":false,"zero":false}},
  "y":{"field":"o","type":"quantitative","title":null,"scale":{"domain":[0.69047,0.70904],"nice":false,"zero":false}},
  "y2":{"field":"c"},
  "fill":{"condition":{"test":"datum.c>datum.o","value":"#008000"},"value":"#c0202a"},
  "stroke":{"condition":{"test":"datum.o==datum.c","value":"#00ff00"},"value":"#000000"}
 }},
{"data":{"name":"red"},
 "mark":{"type":"line","color":"#dc143c","strokeWidth":2},
 "encoding":{
  "x":{"field":"i","type":"quantitative","title":null,"scale":{"type":"linear","domain":[-0.625,385.625],"nice":false,"zero":false}},
  "y":{"field":"v","type":"quantitative","title":null,"scale":{"domain":[0.69047,0.70904],"nice":false,"zero":false}}
 }},
{"data":{"name":"green"},
 "mark":{"type":"line","color":"#008000","strokeWidth":2},
 "encoding":{
  "x":{"field":"i","type":"quantitative","title":null,"scale":{"type":"linear","domain":[-0.625,385.625],"nice":false,"zero":false}},
  "y":{"field":"v","type":"quantitative","title":null,"scale":{"domain":[0.69047,0.70904],"nice":false,"zero":false}}
 }},
{"data":{"name":"levels"},
 "mark":{"type":"rule","color":"#000000","strokeWidth":2},
 "encoding":{
  "y":{"field":"p","type":"quantitative","title":null,"scale":{"domain":[0.69047,0.70904],"nice":false,"zero":false}}
 }},
{"data":{"name":"tags"},
 "mark":{"type":"rect","color":"#000000","yOffset":-6,"y2Offset":6,"clip":false},
 "encoding":{
  "x":{"datum":386.1,"type":"quantitative","title":null,"scale":{"type":"linear","domain":[-0.625,385.625],"nice":false,"zero":false}},
  "x2":{"datum":395.7},
  "y":{"field":"p","type":"quantitative","title":null,"scale":{"domain":[0.69047,0.70904],"nice":false,"zero":false}},
  "y2":{"field":"p"}
 }},
{"data":{"name":"tags"},
 "mark":{"type":"text","color":"#ffffff","font":"Liberation Sans","fontSize":9,"align":"center","baseline":"middle","clip":false},
 "encoding":{
  "x":{"datum":390.9,"type":"quantitative","title":null,"scale":{"type":"linear","domain":[-0.625,385.625],"nice":false,"zero":false}},
  "y":{"field":"p","type":"quantitative","title":null,"scale":{"domain":[0.69047,0.70904],"nice":false,"zero":false}},
  "text":{"field":"p","type":"quantitative","format":".5f"}
 }},
{"data":{"values":[{"t":"AUDUSD.var,H1\u00a0 0.69829 0.69864 0.69810 0.69811"}]},
 "mark":{"type":"text","color":"#000000","font":"Liberation Sans","fontSize":9.3,"align":"left","baseline":"middle","dx":14,"dy":6},
 "encoding":{
  "x":{"datum":-0.625,"type":"quantitative","title":null,"scale":{"type":"linear","domain":[-0.625,385.625],"nice":false,"zero":false}},
  "y":{"datum":0.70904,"type":"quantitative","title":null,"scale":{"domain":[0.69047,0.70904],"nice":false,"zero":false}},
  "text":{"field":"t"}
 }},
{"data":{"values":[{"t":"▼"}]},
 "mark":{"type":"text","color":"#000000","font":"DejaVu Sans","fontSize":6,"align":"center","baseline":"middle","dx":4,"dy":5},
 "encoding":{
  "x":{"datum":-0.625,"type":"quantitative","title":null,"scale":{"type":"linear","domain":[-0.625,385.625],"nice":false,"zero":false}},
  "y":{"datum":0.70904,"type":"quantitative","title":null,"scale":{"domain":[0.69047,0.70904],"nice":false,"zero":false}},
  "text":{"field":"t"}
 }}
]
}
